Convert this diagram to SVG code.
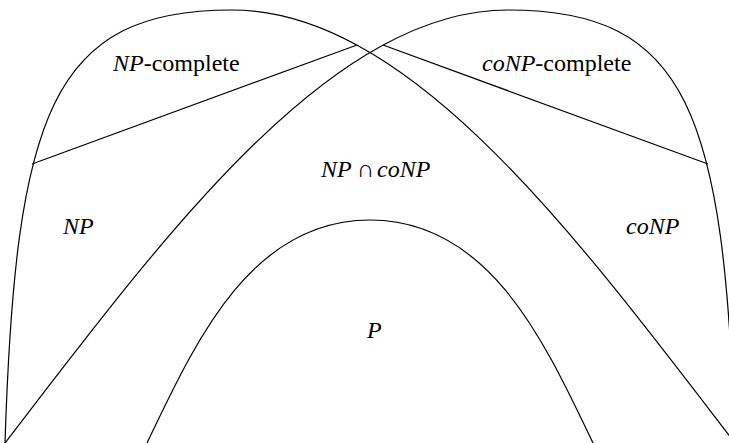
<svg xmlns="http://www.w3.org/2000/svg" width="729" height="443" viewBox="0 0 729 443">
<style>
.c{fill:none;stroke:#000;stroke-width:1.2}
.i{font-style:italic}
</style>
<rect width="729" height="443" fill="#fff"/>
<g id="NP">
<path class="c" d="M5,443 C15.5,113 52,10 232,10 C412,10 581,243 735,443"/>
<line class="c" x1="32" y1="164" x2="357" y2="45"/>
</g>
<g id="coNP">
<path class="c" d="M735,443 C724.5,113 688,10 508,10 C328,10 159,243 5,443"/>
<line class="c" x1="383" y1="45" x2="708" y2="164"/>
</g>
<g id="P">
<path class="c" d="M147,443 C195,343 250,220 370,220 C490,220 545,343 593,443"/>
</g>
<g id="labels" font-family="'Liberation Serif', 'Times New Roman', serif" font-size="24" fill="#000">
<text x="113" y="71"><tspan class="i">NP</tspan>-complete</text>
<text x="482" y="71"><tspan class="i">coNP</tspan>-complete</text>
<text x="321" y="177"><tspan class="i">NP</tspan><tspan x="357">∩</tspan><tspan class="i" x="377">coNP</tspan></text>
<text class="i" x="63" y="234">NP</text>
<text class="i" x="626" y="234">coNP</text>
<text class="i" x="367" y="338">P</text>
</g>
</svg>
